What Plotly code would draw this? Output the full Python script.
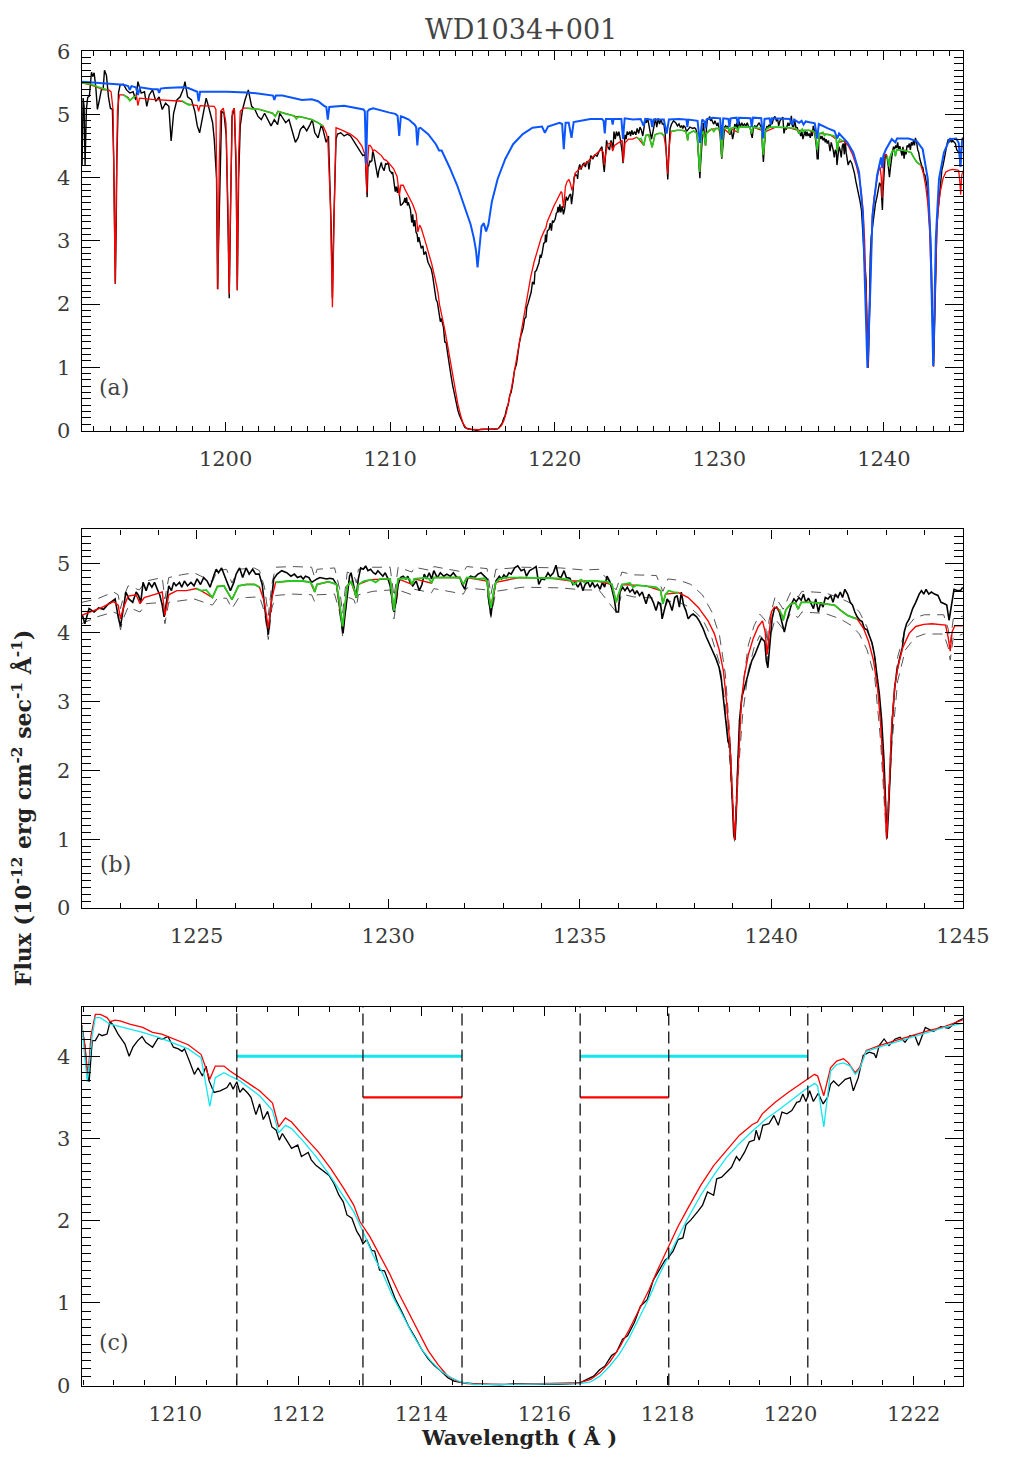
import plotly.graph_objects as go

# ---------------- data (wavelength in Angstrom, flux in 1e-12 erg/cm2/s/A) ----------------
obs_points = [
    (1191.28, 4.19), (1191.34, 5.26), (1191.40, 5.13), (1191.46, 4.20), (1191.54, 5.08), (1191.62, 5.27),
    (1191.72, 5.29), (1191.78, 5.44), (1191.85, 5.67), (1191.93, 5.60), (1192.01, 5.66), (1192.11, 5.44),
    (1192.21, 5.08), (1192.33, 5.23), (1192.45, 5.39), (1192.56, 5.40), (1192.64, 5.70), (1192.76, 5.62),
    (1192.88, 5.28), (1193.00, 5.10), (1193.12, 5.08), (1193.20, 4.30), (1193.26, 2.60), (1193.30, 2.32),
    (1193.35, 3.20), (1193.39, 4.30), (1193.49, 5.34), (1193.59, 5.47), (1193.79, 5.48), (1193.98, 5.39),
    (1194.18, 5.34), (1194.38, 5.36), (1194.54, 5.23), (1194.67, 5.52), (1194.87, 5.34), (1195.07, 5.36),
    (1195.21, 5.13), (1195.36, 5.31), (1195.56, 5.39), (1195.76, 5.21), (1195.96, 5.28), (1196.15, 5.08),
    (1196.35, 5.18), (1196.55, 5.13), (1196.69, 4.58), (1196.84, 5.02), (1197.04, 5.23), (1197.24, 5.28),
    (1197.44, 5.41), (1197.53, 5.52), (1197.69, 5.28), (1197.93, 5.23), (1198.13, 5.05), (1198.28, 4.82),
    (1198.42, 4.71), (1198.62, 5.02), (1198.82, 5.26), (1199.01, 5.08), (1199.21, 4.87), (1199.31, 4.61),
    (1199.45, 3.98), (1199.51, 2.24), (1199.58, 3.20), (1199.64, 3.98), (1199.76, 5.05), (1199.90, 5.02),
    (1200.04, 4.66), (1200.16, 3.05), (1200.22, 2.09), (1200.30, 3.46), (1200.39, 4.97), (1200.53, 5.10),
    (1200.65, 3.98), (1200.71, 2.22), (1200.79, 3.98), (1200.89, 4.82), (1201.03, 5.08), (1201.18, 5.23),
    (1201.38, 5.39), (1201.58, 5.13), (1201.78, 5.08), (1201.97, 4.97), (1202.17, 4.92), (1202.37, 5.02),
    (1202.56, 4.92), (1202.76, 4.82), (1202.96, 4.92), (1203.16, 4.84), (1203.29, 5.02), (1203.45, 4.95),
    (1203.65, 4.87), (1203.85, 4.92), (1204.04, 4.76), (1204.24, 4.56), (1204.40, 4.63), (1204.54, 4.76),
    (1204.73, 4.82), (1204.93, 4.74), (1205.13, 4.84), (1205.27, 4.92), (1205.42, 4.71), (1205.62, 4.63),
    (1205.82, 4.84), (1205.92, 4.76), (1206.11, 4.56), (1206.25, 4.66), (1206.41, 3.26), (1206.49, 2.09),
    (1206.57, 3.26), (1206.71, 4.61), (1206.80, 4.69), (1207.00, 4.71), (1207.20, 4.66), (1207.40, 4.69),
    (1207.59, 4.66), (1207.79, 4.58), (1207.99, 4.50), (1208.19, 4.40), (1208.34, 4.35),
    (1208.48, 4.37), (1208.53, 4.13), (1208.57, 3.78), (1208.60, 3.69), (1208.65, 4.19), (1208.70, 4.19),
    (1208.76, 4.27), (1208.81, 4.25), (1208.89, 4.27), (1208.94, 4.42), (1208.99, 4.38), (1209.07, 4.27),
    (1209.18, 4.15), (1209.25, 4.00), (1209.31, 4.11), (1209.39, 4.19), (1209.46, 4.24), (1209.52, 4.17),
    (1209.63, 4.11), (1209.72, 4.22), (1209.79, 4.21), (1209.88, 4.24), (1209.97, 4.11), (1210.05, 4.09),
    (1210.11, 4.06), (1210.15, 4.09), (1210.23, 3.94), (1210.31, 3.78), (1210.37, 3.86), (1210.44, 3.76),
    (1210.50, 3.88), (1210.55, 3.70), (1210.63, 3.56), (1210.73, 3.58), (1210.84, 3.62), (1210.89, 3.68),
    (1210.94, 3.60), (1211.00, 3.69), (1211.05, 3.56), (1211.10, 3.61), (1211.18, 3.55), (1211.23, 3.50),
    (1211.31, 3.29), (1211.37, 3.42), (1211.43, 3.23), (1211.50, 3.33), (1211.57, 3.14), (1211.64, 3.10),
    (1211.69, 2.98), (1211.74, 3.06), (1211.80, 2.99), (1211.89, 2.88), (1211.99, 2.92), (1212.05, 2.78),
    (1212.16, 2.83), (1212.21, 2.74), (1212.29, 2.67), (1212.39, 2.61), (1212.50, 2.55), (1212.58, 2.45),
    (1212.66, 2.31), (1212.73, 2.23), (1212.79, 2.07), (1212.87, 2.03), (1212.95, 1.87), (1213.00, 1.81),
    (1213.05, 1.72), (1213.11, 1.77), (1213.19, 1.64), (1213.24, 1.63), (1213.32, 1.40), (1213.40, 1.39),
    (1213.48, 1.24), (1213.58, 1.04), (1213.69, 0.88), (1213.79, 0.72), (1213.90, 0.58), (1214.00, 0.44),
    (1214.11, 0.32), (1214.21, 0.24), (1214.32, 0.17), (1214.43, 0.09), (1214.53, 0.05), (1214.66, 0.03),
    (1214.85, 0.02), (1215.06, 0.01), (1215.27, 0.00), (1215.53, 0.02), (1215.69, 0.02), (1215.97, 0.01),
    (1216.22, 0.01), (1216.48, 0.02), (1216.58, 0.03), (1216.69, 0.07), (1216.80, 0.11), (1216.90, 0.19),
    (1216.98, 0.23), (1217.09, 0.36), (1217.17, 0.40), (1217.27, 0.56), (1217.35, 0.60), (1217.46, 0.76),
    (1217.56, 0.96), (1217.67, 1.04), (1217.77, 1.28), (1217.85, 1.38), (1217.96, 1.52), (1218.01, 1.55),
    (1218.09, 1.63), (1218.17, 1.77), (1218.25, 1.79), (1218.30, 1.95), (1218.38, 2.01), (1218.49, 2.11),
    (1218.57, 2.19), (1218.65, 2.35), (1218.75, 2.31), (1218.80, 2.51), (1218.88, 2.53), (1218.96, 2.59),
    (1219.04, 2.65), (1219.12, 2.78), (1219.17, 2.73), (1219.25, 2.83), (1219.33, 2.96), (1219.41, 2.98),
    (1219.44, 3.10), (1219.49, 2.98), (1219.55, 3.16), (1219.65, 3.18), (1219.73, 3.28), (1219.80, 3.16),
    (1219.86, 3.32), (1219.94, 3.30), (1220.02, 3.34), (1220.10, 3.44), (1220.15, 3.45), (1220.20, 3.54),
    (1220.25, 3.45), (1220.31, 3.58), (1220.37, 3.45), (1220.45, 3.55), (1220.53, 3.42), (1220.60, 3.50),
    (1220.65, 3.66), (1220.70, 3.70), (1220.78, 3.64), (1220.89, 3.72), (1220.97, 3.74), (1221.02, 3.58),
    (1221.10, 3.74), (1221.18, 4.01), (1221.28, 4.05), (1221.36, 4.03), (1221.39, 3.98), (1221.44, 4.13),
    (1221.52, 4.21), (1221.60, 4.13), (1221.70, 4.21), (1221.78, 4.23), (1221.86, 4.17), (1221.94, 4.25),
    (1222.02, 4.25), (1222.08, 4.13), (1222.19, 4.35), (1222.32, 4.30), (1222.44, 4.36), (1222.57, 4.34),
    (1222.70, 4.42), (1222.78, 4.45), (1222.87, 4.49), (1222.95, 4.23), (1223.01, 4.09), (1223.10, 4.40),
    (1223.15, 4.59), (1223.23, 4.49), (1223.33, 4.44), (1223.42, 4.59), (1223.48, 4.54), (1223.54, 4.44),
    (1223.60, 4.73), (1223.68, 4.61), (1223.75, 4.73), (1223.83, 4.66), (1223.90, 4.73), (1223.98, 4.62),
    (1224.04, 4.54), (1224.10, 4.40), (1224.15, 4.23), (1224.21, 4.44), (1224.27, 4.68), (1224.34, 4.61),
    (1224.40, 4.73), (1224.46, 4.68), (1224.55, 4.73), (1224.61, 4.66), (1224.68, 4.75), (1224.76, 4.68),
    (1224.85, 4.73), (1224.93, 4.68), (1225.01, 4.78), (1225.10, 4.70), (1225.18, 4.80), (1225.27, 4.75),
    (1225.35, 4.66), (1225.46, 4.85), (1225.51, 4.92), (1225.57, 4.87), (1225.65, 4.94), (1225.78, 4.75),
    (1225.88, 4.61), (1225.97, 4.73), (1226.03, 4.85), (1226.12, 4.94), (1226.20, 4.80), (1226.29, 4.94),
    (1226.37, 4.85), (1226.46, 4.92), (1226.54, 4.85), (1226.63, 4.85), (1226.71, 4.70), (1226.80, 4.25),
    (1226.87, 3.97), (1226.93, 4.35), (1227.01, 4.78), (1227.10, 4.85), (1227.22, 4.90), (1227.35, 4.87),
    (1227.46, 4.82), (1227.55, 4.85), (1227.63, 4.80), (1227.72, 4.82), (1227.78, 4.78), (1227.84, 4.82),
    (1227.93, 4.80), (1228.00, 4.73), (1228.05, 4.75), (1228.14, 4.78), (1228.22, 4.80), (1228.31, 4.79),
    (1228.39, 4.78), (1228.48, 4.79), (1228.56, 4.78), (1228.65, 4.70), (1228.73, 4.35), (1228.78, 4.09),
    (1228.82, 3.99), (1228.86, 4.20), (1228.93, 4.54), (1228.99, 4.82), (1229.03, 4.87), (1229.10, 4.68),
    (1229.16, 4.51), (1229.22, 4.78), (1229.28, 4.94), (1229.35, 4.92), (1229.41, 4.97), (1229.47, 4.90),
    (1229.54, 4.92), (1229.61, 4.87), (1229.67, 4.85), (1229.73, 4.90), (1229.79, 4.87), (1229.86, 4.82),
    (1229.92, 4.87), (1229.98, 4.80), (1230.05, 4.68), (1230.11, 4.44), (1230.15, 4.30), (1230.20, 4.44),
    (1230.26, 4.70), (1230.32, 4.80), (1230.39, 4.82), (1230.46, 4.78), (1230.51, 4.82), (1230.57, 4.73),
    (1230.64, 4.68), (1230.73, 4.75), (1230.81, 4.61), (1230.88, 4.70), (1230.94, 4.85), (1231.00, 4.78),
    (1231.07, 4.87), (1231.13, 4.78), (1231.19, 4.90), (1231.28, 4.80), (1231.36, 4.87), (1231.45, 4.82),
    (1231.53, 4.85), (1231.62, 4.82), (1231.70, 4.87), (1231.79, 4.80), (1231.87, 4.80), (1231.93, 4.70),
    (1232.00, 4.63), (1232.07, 4.78), (1232.15, 4.82), (1232.25, 4.80), (1232.34, 4.85), (1232.42, 4.87),
    (1232.51, 4.82), (1232.58, 4.78), (1232.62, 4.49), (1232.68, 4.25), (1232.75, 4.54), (1232.81, 4.75),
    (1232.90, 4.82), (1232.96, 4.78), (1233.02, 4.84), (1233.08, 4.80), (1233.15, 4.87), (1233.21, 4.85),
    (1233.30, 4.94), (1233.38, 4.97), (1233.47, 4.90), (1233.55, 4.92), (1233.61, 4.82), (1233.69, 4.90),
    (1233.78, 4.93), (1233.86, 4.96), (1233.93, 4.70), (1234.00, 4.78), (1234.08, 4.77), (1234.17, 4.87),
    (1234.23, 4.82), (1234.31, 4.87), (1234.38, 4.98), (1234.44, 4.82), (1234.51, 4.80), (1234.59, 4.90),
    (1234.65, 4.80), (1234.74, 4.79), (1234.82, 4.70), (1234.88, 4.73), (1234.95, 4.66), (1235.02, 4.73),
    (1235.08, 4.61), (1235.14, 4.70), (1235.21, 4.74), (1235.27, 4.66), (1235.33, 4.73), (1235.39, 4.66),
    (1235.46, 4.70), (1235.53, 4.63), (1235.59, 4.73), (1235.65, 4.66), (1235.71, 4.82), (1235.78, 4.75),
    (1235.84, 4.63), (1235.90, 4.49), (1235.95, 4.30), (1236.01, 4.30), (1236.05, 4.59), (1236.12, 4.66),
    (1236.18, 4.61), (1236.24, 4.66), (1236.31, 4.59), (1236.38, 4.63), (1236.44, 4.56), (1236.49, 4.61),
    (1236.56, 4.54), (1236.63, 4.59), (1236.69, 4.49), (1236.73, 4.42), (1236.80, 4.56), (1236.86, 4.51),
    (1236.92, 4.44), (1236.99, 4.32), (1237.05, 4.44), (1237.11, 4.42), (1237.15, 4.20), (1237.22, 4.37),
    (1237.28, 4.49), (1237.34, 4.44), (1237.41, 4.32), (1237.48, 4.51), (1237.54, 4.54), (1237.60, 4.37),
    (1237.65, 4.59), (1237.71, 4.40), (1237.77, 4.32), (1237.83, 4.20), (1237.90, 4.25), (1237.96, 4.27),
    (1238.05, 4.23), (1238.13, 4.16), (1238.22, 4.06), (1238.30, 3.94), (1238.38, 3.85), (1238.47, 3.73),
    (1238.55, 3.63), (1238.64, 3.49), (1238.70, 3.30), (1238.75, 3.01), (1238.81, 2.73), (1238.87, 2.42),
    (1238.92, 2.37), (1238.95, 1.97), (1238.99, 1.40), (1239.02, 1.06), (1239.05, 0.99), (1239.08, 1.30),
    (1239.12, 2.01), (1239.17, 2.73), (1239.23, 3.06), (1239.32, 3.25), (1239.40, 3.44), (1239.49, 3.59),
    (1239.57, 3.68), (1239.66, 3.82), (1239.74, 3.92), (1239.83, 3.87), (1239.87, 3.59), (1239.91, 3.49),
    (1239.95, 3.78), (1240.02, 4.20), (1240.08, 4.35), (1240.14, 4.37), (1240.21, 4.30), (1240.28, 4.16),
    (1240.34, 4.01), (1240.40, 4.16), (1240.46, 4.30), (1240.53, 4.42), (1240.59, 4.49), (1240.65, 4.45),
    (1240.72, 4.51), (1240.78, 4.47), (1240.84, 4.56), (1240.90, 4.44), (1240.97, 4.50), (1241.04, 4.42),
    (1241.10, 4.35), (1241.16, 4.49), (1241.23, 4.30), (1241.29, 4.44), (1241.35, 4.37), (1241.41, 4.51),
    (1241.48, 4.49), (1241.55, 4.54), (1241.61, 4.44), (1241.67, 4.56), (1241.74, 4.51), (1241.80, 4.59),
    (1241.86, 4.51), (1241.92, 4.63), (1241.99, 4.56), (1242.06, 4.44), (1242.12, 4.40), (1242.18, 4.30),
    (1242.24, 4.23), (1242.31, 4.18), (1242.37, 4.16), (1242.43, 4.06), (1242.50, 4.04), (1242.57, 3.94),
    (1242.63, 3.85), (1242.69, 3.68), (1242.75, 3.44), (1242.82, 3.11), (1242.88, 2.73), (1242.94, 2.16),
    (1242.99, 1.44), (1243.02, 1.01), (1243.06, 1.40), (1243.11, 2.16), (1243.16, 2.73), (1243.22, 3.20),
    (1243.28, 3.44), (1243.35, 3.63), (1243.42, 3.78), (1243.47, 4.01), (1243.53, 4.13), (1243.60, 4.20),
    (1243.69, 4.35), (1243.77, 4.44), (1243.86, 4.56), (1243.92, 4.61), (1243.98, 4.56), (1244.04, 4.63),
    (1244.11, 4.56), (1244.18, 4.59), (1244.26, 4.56), (1244.35, 4.54), (1244.43, 4.44), (1244.52, 4.42),
    (1244.58, 4.40), (1244.64, 4.18), (1244.70, 4.40), (1244.77, 4.63), (1244.86, 4.61), (1244.94, 4.61),
    (1245.00, 4.66),
]

red_model = [
    (1191.28, 5.50), (1191.81, 5.47), (1192.21, 5.43), (1192.60, 5.39), (1192.90, 5.39), (1193.04, 5.36),
    (1193.16, 5.08), (1193.23, 3.52), (1193.29, 2.32), (1193.35, 3.52), (1193.43, 5.08), (1193.55, 5.31),
    (1193.79, 5.31), (1194.08, 5.27), (1194.18, 5.22), (1194.34, 5.26), (1194.58, 5.31), (1194.67, 5.14),
    (1194.77, 5.26), (1195.56, 5.24), (1196.55, 5.22), (1197.34, 5.21), (1197.63, 5.17), (1198.13, 5.15),
    (1198.28, 5.14), (1198.36, 5.05), (1198.45, 5.14), (1199.31, 5.13), (1199.41, 5.08), (1199.45, 4.19),
    (1199.53, 2.23), (1199.61, 4.19), (1199.70, 5.05), (1199.86, 5.10), (1200.02, 4.87), (1200.14, 3.57),
    (1200.22, 2.16), (1200.30, 3.57), (1200.41, 5.05), (1200.53, 5.10), (1200.63, 4.35), (1200.71, 2.22),
    (1200.79, 4.35), (1200.89, 5.05), (1201.08, 5.10), (1201.28, 5.10), (1202.07, 5.08), (1202.86, 5.02),
    (1203.02, 4.97), (1203.18, 5.05), (1203.65, 5.01), (1204.24, 4.97), (1204.64, 4.96), (1205.23, 4.92),
    (1205.62, 4.87), (1205.92, 4.82), (1206.11, 4.71), (1206.21, 4.61), (1206.37, 3.57), (1206.49, 1.95),
    (1206.61, 3.57), (1206.71, 4.79), (1207.00, 4.76), (1207.59, 4.69), (1207.99, 4.61), (1208.28, 4.50),
    (1208.42, 4.40), (1208.48, 4.37), (1208.53, 4.13), (1208.58, 3.76), (1208.63, 4.25), (1208.70, 4.51),
    (1208.78, 4.51), (1208.89, 4.47), (1208.94, 4.42), (1209.02, 4.44), (1209.10, 4.43), (1209.26, 4.39),
    (1209.47, 4.35), (1209.63, 4.29), (1209.78, 4.27), (1209.99, 4.21), (1210.21, 4.14), (1210.42, 4.02),
    (1210.56, 3.72), (1210.65, 3.88), (1210.79, 3.88), (1210.89, 3.82), (1211.05, 3.74), (1211.21, 3.66),
    (1211.37, 3.58), (1211.58, 3.43), (1211.68, 3.14), (1211.79, 3.25), (1211.89, 3.20), (1212.10, 3.02),
    (1212.32, 2.84), (1212.53, 2.63), (1212.74, 2.39), (1212.90, 2.19), (1213.00, 1.99), (1213.16, 1.81),
    (1213.32, 1.59), (1213.48, 1.36), (1213.63, 1.12), (1213.79, 0.88), (1213.95, 0.64), (1214.11, 0.42),
    (1214.27, 0.25), (1214.43, 0.11), (1214.58, 0.05), (1214.74, 0.02), (1215.38, 0.01), (1216.58, 0.03),
    (1216.75, 0.07), (1216.90, 0.15), (1217.06, 0.28), (1217.22, 0.46), (1217.38, 0.68), (1217.54, 0.92),
    (1217.70, 1.16), (1217.85, 1.42), (1218.01, 1.67), (1218.17, 1.93), (1218.33, 2.15), (1218.54, 2.43),
    (1218.75, 2.67), (1218.96, 2.86), (1219.17, 3.04), (1219.38, 3.17), (1219.46, 3.20), (1219.54, 3.30),
    (1219.75, 3.44), (1219.96, 3.56), (1220.12, 3.64), (1220.28, 3.72), (1220.39, 3.78), (1220.44, 3.76),
    (1220.54, 3.52), (1220.65, 3.86), (1220.75, 3.94), (1220.86, 3.97), (1220.94, 3.92), (1221.05, 3.80),
    (1221.12, 3.86), (1221.23, 4.07), (1221.44, 4.13), (1221.70, 4.19), (1221.97, 4.25), (1222.23, 4.31),
    (1222.50, 4.36), (1222.83, 4.45), (1222.95, 4.40), (1223.01, 4.20), (1223.08, 4.35), (1223.21, 4.53),
    (1223.42, 4.55), (1223.52, 4.42), (1223.63, 4.51), (1223.93, 4.56), (1224.10, 4.59), (1224.17, 4.25),
    (1224.27, 4.55), (1224.48, 4.61), (1224.73, 4.61), (1224.99, 4.64), (1225.11, 4.61), (1225.41, 4.51),
    (1225.54, 4.67), (1225.71, 4.68), (1225.92, 4.48), (1226.09, 4.68), (1226.30, 4.70), (1226.51, 4.70),
    (1226.64, 4.66), (1226.77, 4.44), (1226.87, 4.06), (1226.96, 4.49), (1227.06, 4.73), (1227.42, 4.75),
    (1227.76, 4.75), (1227.97, 4.73), (1228.08, 4.59), (1228.14, 4.70), (1228.44, 4.74), (1228.65, 4.70),
    (1228.81, 4.09), (1228.93, 4.68), (1229.03, 4.74), (1229.17, 4.51), (1229.22, 4.70), (1229.54, 4.77),
    (1230.05, 4.78), (1230.15, 4.32), (1230.26, 4.78), (1230.62, 4.70), (1230.68, 4.78), (1231.13, 4.72),
    (1231.19, 4.80), (1231.87, 4.80), (1231.96, 4.70), (1232.05, 4.80), (1232.58, 4.75), (1232.68, 4.36),
    (1232.81, 4.73), (1233.42, 4.80), (1234.27, 4.79), (1234.78, 4.75), (1235.46, 4.75), (1235.84, 4.70),
    (1235.95, 4.44), (1236.10, 4.70), (1236.73, 4.68), (1237.11, 4.61), (1237.17, 4.42), (1237.24, 4.56),
    (1237.58, 4.58), (1237.83, 4.51), (1238.09, 4.37), (1238.34, 4.18), (1238.51, 3.99), (1238.64, 3.75),
    (1238.75, 3.44), (1238.83, 3.01), (1238.92, 2.35), (1238.98, 1.68), (1239.04, 0.99), (1239.09, 1.49),
    (1239.15, 2.30), (1239.21, 2.92), (1239.29, 3.35), (1239.40, 3.68), (1239.53, 3.92), (1239.66, 4.09),
    (1239.77, 4.17), (1239.84, 4.01), (1239.89, 3.68), (1239.94, 4.01), (1240.00, 4.30), (1240.08, 4.37),
    (1240.17, 4.35), (1240.28, 4.25), (1240.31, 4.18), (1240.38, 4.33), (1240.51, 4.42), (1240.63, 4.43),
    (1240.70, 4.34), (1240.78, 4.44), (1241.06, 4.44), (1241.40, 4.42), (1241.65, 4.40), (1241.82, 4.32),
    (1241.99, 4.25), (1242.24, 4.20), (1242.41, 4.06), (1242.54, 3.87), (1242.67, 3.59), (1242.78, 3.16),
    (1242.86, 2.63), (1242.94, 1.87), (1243.01, 1.01), (1243.08, 1.78), (1243.14, 2.63), (1243.22, 3.20),
    (1243.30, 3.49), (1243.43, 3.78), (1243.60, 3.99), (1243.77, 4.09), (1243.98, 4.12), (1244.19, 4.13),
    (1244.49, 4.12), (1244.55, 4.11), (1244.62, 3.92), (1244.67, 3.73), (1244.72, 4.01), (1244.79, 4.10),
    (1245.00, 4.10),
]

green_seg1 = [(1191.28, 5.50), (1191.81, 5.48), (1192.21, 5.44), (1192.60, 5.40), (1192.80, 5.39)]
green_seg2 = [(1193.79, 5.31), (1194.02, 5.27), (1194.18, 5.22), (1194.34, 5.26), (1194.58, 5.30)]
green_seg3 = [(1197.34, 5.22), (1197.57, 5.18), (1197.77, 5.15), (1197.93, 5.16)]
green_seg4 = [(1201.28, 5.10), (1202.07, 5.08), (1202.86, 5.02), (1203.02, 4.97), (1203.18, 5.05),
              (1203.65, 5.01), (1204.15, 4.98), (1204.30, 4.93), (1204.45, 4.97), (1204.64, 4.96),
              (1205.23, 4.92), (1205.62, 4.87), (1205.92, 4.82)]
green_seg5 = [(1224.99, 4.64), (1225.11, 4.61), (1225.25, 4.62), (1225.41, 4.51), (1225.54, 4.67),
              (1225.71, 4.68), (1225.92, 4.48), (1226.09, 4.68), (1226.30, 4.70), (1226.51, 4.70),
              (1226.64, 4.66)]
green_seg6 = [
    (1227.06, 4.73), (1227.42, 4.75), (1227.76, 4.75), (1227.97, 4.73), (1228.03, 4.68), (1228.08, 4.59),
    (1228.14, 4.70), (1228.44, 4.74), (1228.65, 4.70), (1228.73, 4.44), (1228.78, 4.20), (1228.81, 4.09),
    (1228.86, 4.35), (1228.93, 4.68), (1229.03, 4.74), (1229.11, 4.63), (1229.17, 4.51), (1229.22, 4.70),
    (1229.37, 4.75), (1229.54, 4.77), (1229.67, 4.73), (1229.79, 4.78), (1230.05, 4.78), (1230.11, 4.54),
    (1230.15, 4.32), (1230.20, 4.59), (1230.26, 4.78), (1230.47, 4.79), (1230.56, 4.78), (1230.62, 4.70),
    (1230.68, 4.78), (1230.98, 4.80), (1231.07, 4.78), (1231.13, 4.72), (1231.19, 4.80), (1231.49, 4.80),
    (1231.87, 4.80), (1231.96, 4.70), (1232.05, 4.80), (1232.17, 4.80), (1232.34, 4.78), (1232.51, 4.79),
    (1232.58, 4.75), (1232.64, 4.49), (1232.68, 4.36), (1232.75, 4.59), (1232.81, 4.73), (1232.91, 4.78),
    (1233.08, 4.80), (1233.42, 4.80), (1233.85, 4.80), (1234.27, 4.79), (1234.61, 4.78), (1234.78, 4.75),
    (1234.85, 4.70), (1234.93, 4.74), (1235.04, 4.77), (1235.12, 4.73), (1235.20, 4.75), (1235.46, 4.75),
    (1235.71, 4.74), (1235.84, 4.70), (1235.91, 4.56), (1235.95, 4.44), (1236.01, 4.56), (1236.10, 4.70),
    (1236.31, 4.72), (1236.39, 4.66), (1236.48, 4.69), (1236.73, 4.68), (1236.99, 4.66), (1237.11, 4.61),
    (1237.17, 4.42), (1237.24, 4.56), (1237.32, 4.61), (1237.45, 4.59), (1237.58, 4.58),
]
green_seg7 = [(1240.21, 4.34), (1240.28, 4.25), (1240.31, 4.18), (1240.38, 4.33), (1240.51, 4.42),
              (1240.63, 4.43), (1240.70, 4.34), (1240.78, 4.44), (1241.06, 4.44), (1241.40, 4.42),
              (1241.65, 4.40), (1241.82, 4.32), (1241.99, 4.25), (1242.16, 4.21), (1242.24, 4.20)]

blue_model = [
    (1191.28, 5.52), (1192.21, 5.50), (1193.00, 5.48), (1193.79, 5.47), (1194.08, 5.45), (1194.18, 5.39),
    (1194.28, 5.45), (1194.55, 5.43), (1194.67, 5.31), (1194.80, 5.43), (1195.56, 5.40), (1195.88, 5.40),
    (1195.96, 5.34), (1196.05, 5.41), (1196.35, 5.42), (1197.34, 5.43), (1197.73, 5.42), (1198.05, 5.38),
    (1198.28, 5.36), (1198.36, 5.21), (1198.45, 5.36), (1200.10, 5.36), (1201.28, 5.35), (1202.07, 5.33),
    (1202.88, 5.30), (1202.96, 5.23), (1203.05, 5.30), (1203.45, 5.30), (1204.24, 5.26), (1204.64, 5.23),
    (1205.23, 5.24), (1205.62, 5.21), (1206.02, 5.13), (1206.12, 5.12), (1206.21, 4.92), (1206.30, 5.12),
    (1207.20, 5.14), (1207.99, 5.10), (1208.38, 5.08), (1208.46, 5.05), (1208.54, 4.22), (1208.62, 5.05),
    (1208.74, 5.08), (1208.97, 5.10), (1209.57, 5.05), (1209.96, 5.03), (1210.31, 5.01), (1210.45, 4.98),
    (1210.55, 4.66), (1210.65, 4.97), (1210.78, 4.96), (1211.13, 4.92), (1211.49, 4.84), (1211.58, 4.80),
    (1211.65, 4.51), (1211.74, 4.78), (1211.84, 4.79), (1212.31, 4.69), (1212.78, 4.53), (1212.97, 4.43),
    (1213.13, 4.43), (1213.60, 4.17), (1214.07, 3.88), (1214.54, 3.54), (1214.89, 3.26), (1215.08, 3.05),
    (1215.22, 2.84), (1215.31, 2.58), (1215.41, 2.84), (1215.55, 3.23), (1215.69, 3.28), (1215.83, 3.15),
    (1215.97, 3.26), (1216.18, 3.62), (1216.53, 3.98), (1217.00, 4.30), (1217.47, 4.53), (1218.06, 4.69),
    (1218.65, 4.79), (1219.23, 4.81), (1219.40, 4.71), (1219.59, 4.81), (1220.29, 4.87), (1220.45, 4.85),
    (1220.55, 4.45), (1220.66, 4.87), (1220.85, 4.87), (1221.02, 4.63), (1221.15, 4.88), (1222.17, 4.93),
    (1222.87, 4.93), (1222.97, 4.90), (1223.04, 4.70), (1223.11, 4.93), (1223.46, 4.93), (1223.52, 4.84),
    (1223.58, 4.93), (1224.05, 4.93), (1224.15, 4.61), (1224.25, 4.94), (1224.75, 4.92), (1225.22, 4.93),
    (1225.40, 4.82), (1225.50, 4.93), (1225.85, 4.92), (1225.92, 4.80), (1226.00, 4.92), (1226.63, 4.92),
    (1226.80, 4.70), (1226.94, 4.92), (1227.57, 4.93), (1228.00, 4.92), (1228.06, 4.80), (1228.12, 4.92),
    (1228.68, 4.90), (1228.82, 4.55), (1228.96, 4.92), (1229.12, 4.88), (1229.17, 4.78), (1229.22, 4.92),
    (1229.60, 4.95), (1230.05, 4.94), (1230.15, 4.60), (1230.24, 4.94), (1230.55, 4.93), (1230.62, 4.80),
    (1230.69, 4.94), (1231.05, 4.95), (1231.13, 4.84), (1231.20, 4.95), (1231.90, 4.94), (1231.97, 4.80),
    (1232.05, 4.95), (1232.55, 4.94), (1232.65, 4.62), (1232.75, 4.93), (1233.05, 4.94), (1233.12, 4.84),
    (1233.20, 4.94), (1234.30, 4.93), (1234.42, 4.84), (1234.55, 4.92), (1234.85, 4.87), (1235.00, 4.90),
    (1235.12, 4.84), (1235.25, 4.89), (1235.80, 4.86), (1235.95, 4.62), (1236.05, 4.85), (1236.40, 4.80),
    (1236.60, 4.78), (1237.00, 4.74), (1237.17, 4.62), (1237.28, 4.70), (1237.50, 4.64), (1237.78, 4.56),
    (1238.14, 4.40), (1238.49, 4.09), (1238.72, 3.46), (1238.89, 2.00), (1239.00, 0.99), (1239.15, 2.00),
    (1239.31, 3.41), (1239.59, 4.04), (1239.83, 4.32), (1239.90, 4.15), (1239.97, 4.35), (1240.13, 4.45),
    (1240.48, 4.61), (1240.70, 4.56), (1240.80, 4.62), (1241.50, 4.62), (1242.00, 4.58), (1242.36, 4.45),
    (1242.67, 3.98), (1242.83, 3.05), (1243.00, 1.02), (1243.16, 3.05), (1243.35, 3.98), (1243.65, 4.40),
    (1244.00, 4.61), (1244.40, 4.62), (1244.55, 4.55), (1244.66, 4.17), (1244.75, 4.58), (1245.00, 4.63),
]

cyan_model = [
    (1208.48, 4.36), (1208.57, 3.69), (1208.65, 4.25), (1208.70, 4.47), (1208.78, 4.47), (1208.94, 4.39),
    (1209.10, 4.36), (1209.26, 4.33), (1209.47, 4.29), (1209.73, 4.23), (1209.99, 4.15), (1210.21, 4.09),
    (1210.42, 3.98), (1210.56, 3.39), (1210.65, 3.74), (1210.79, 3.80), (1210.89, 3.76), (1211.05, 3.70),
    (1211.37, 3.52), (1211.58, 3.34), (1211.68, 3.07), (1211.79, 3.16), (1211.89, 3.12), (1212.10, 2.95),
    (1212.32, 2.75), (1212.53, 2.53), (1212.74, 2.29), (1212.90, 2.11), (1213.05, 1.87), (1213.21, 1.59),
    (1213.37, 1.36), (1213.52, 1.10), (1213.69, 0.86), (1213.84, 0.64), (1214.00, 0.44), (1214.16, 0.29),
    (1214.32, 0.17), (1214.48, 0.09), (1214.64, 0.04), (1214.85, 0.01), (1215.38, 0.01), (1216.58, 0.02),
    (1216.75, 0.04), (1216.90, 0.11), (1217.06, 0.23), (1217.22, 0.38), (1217.38, 0.58), (1217.54, 0.82),
    (1217.70, 1.06), (1217.85, 1.32), (1218.01, 1.56), (1218.17, 1.81), (1218.33, 2.03), (1218.54, 2.31),
    (1218.75, 2.55), (1218.96, 2.77), (1219.17, 2.94), (1219.38, 3.09), (1219.59, 3.23), (1219.81, 3.35),
    (1220.02, 3.47), (1220.23, 3.59), (1220.39, 3.67), (1220.44, 3.64), (1220.54, 3.14), (1220.65, 3.82),
    (1220.75, 3.90), (1220.86, 3.92), (1220.97, 3.88), (1221.05, 3.78), (1221.12, 3.84), (1221.23, 4.06),
    (1221.44, 4.11), (1221.70, 4.17), (1221.97, 4.23), (1222.23, 4.29), (1222.50, 4.35), (1222.79, 4.40),
]

upper_dashed = [
    (1222.00, 4.44), (1222.40, 4.49), (1222.83, 4.59), (1222.95, 4.55), (1223.01, 4.35), (1223.08, 4.50),
    (1223.21, 4.68), (1223.50, 4.62), (1223.68, 4.75), (1224.10, 4.80), (1224.17, 4.49), (1224.27, 4.80),
    (1224.60, 4.84), (1224.93, 4.87), (1225.41, 4.74), (1225.54, 4.90), (1225.78, 4.92), (1225.92, 4.72),
    (1226.09, 4.92), (1226.50, 4.94), (1226.64, 4.90), (1226.77, 4.66), (1226.87, 4.25), (1226.96, 4.70),
    (1227.06, 4.95), (1227.50, 4.96), (1228.00, 4.95), (1228.08, 4.80), (1228.14, 4.92), (1228.60, 4.94),
    (1228.73, 4.64), (1228.81, 4.28), (1228.86, 4.55), (1228.93, 4.88), (1229.10, 4.84), (1229.17, 4.72),
    (1229.22, 4.92), (1229.60, 4.95), (1230.05, 4.95), (1230.15, 4.52), (1230.26, 4.95), (1230.62, 4.88),
    (1230.68, 4.95), (1231.13, 4.90), (1231.19, 4.96), (1231.96, 4.88), (1232.05, 4.96), (1232.58, 4.93),
    (1232.68, 4.55), (1232.81, 4.92), (1233.50, 4.95), (1234.50, 4.94), (1235.10, 4.91), (1235.50, 4.92),
    (1235.95, 4.62), (1236.10, 4.88), (1236.40, 4.84), (1237.00, 4.83), (1237.17, 4.60), (1237.30, 4.78),
    (1237.60, 4.76), (1237.90, 4.70), (1238.20, 4.55), (1238.45, 4.30), (1238.65, 3.95), (1238.80, 3.40),
    (1238.92, 2.50), (1239.04, 1.05), (1239.15, 2.40), (1239.25, 3.20), (1239.40, 3.82), (1239.55, 4.10),
    (1239.70, 4.27), (1239.84, 4.18), (1239.89, 3.85), (1239.94, 4.18), (1240.10, 4.52), (1240.31, 4.34),
    (1240.50, 4.58), (1240.70, 4.52), (1240.80, 4.60), (1241.40, 4.58), (1241.80, 4.50), (1242.10, 4.42),
    (1242.30, 4.30), (1242.50, 4.08), (1242.70, 3.70), (1242.85, 2.80), (1243.01, 1.05), (1243.15, 2.75),
    (1243.30, 3.65), (1243.50, 4.05), (1243.75, 4.22), (1244.00, 4.26), (1244.50, 4.26), (1244.62, 4.05),
    (1244.67, 3.85), (1244.75, 4.20), (1245.00, 4.24),
]

lower_dashed = [
    (1222.00, 4.13), (1222.40, 4.23), (1222.83, 4.30), (1222.95, 4.27), (1223.01, 4.04), (1223.08, 4.20),
    (1223.21, 4.37), (1223.52, 4.30), (1223.68, 4.42), (1224.10, 4.44), (1224.17, 4.13), (1224.27, 4.44),
    (1224.93, 4.49), (1225.41, 4.40), (1225.54, 4.50), (1225.78, 4.50), (1225.92, 4.35), (1226.09, 4.50),
    (1226.30, 4.51), (1226.64, 4.52), (1226.77, 4.30), (1226.87, 3.90), (1226.96, 4.35), (1227.06, 4.54),
    (1227.50, 4.56), (1228.00, 4.55), (1228.08, 4.45), (1228.14, 4.55), (1228.60, 4.56), (1228.73, 4.30),
    (1228.81, 3.95), (1228.86, 4.20), (1228.93, 4.52), (1229.10, 4.48), (1229.17, 4.38), (1229.22, 4.55),
    (1229.60, 4.60), (1230.05, 4.62), (1230.15, 4.20), (1230.26, 4.62), (1230.62, 4.55), (1230.68, 4.63),
    (1231.13, 4.58), (1231.19, 4.64), (1231.96, 4.56), (1232.05, 4.65), (1232.58, 4.62), (1232.68, 4.22),
    (1232.81, 4.60), (1233.50, 4.66), (1234.50, 4.65), (1235.10, 4.62), (1235.50, 4.62), (1235.95, 4.30),
    (1236.10, 4.56), (1236.40, 4.52), (1237.00, 4.50), (1237.17, 4.30), (1237.30, 4.46), (1237.60, 4.44),
    (1237.90, 4.36), (1238.20, 4.20), (1238.45, 3.92), (1238.65, 3.55), (1238.80, 2.95), (1238.92, 2.10),
    (1239.04, 0.97), (1239.15, 2.05), (1239.25, 2.80), (1239.40, 3.45), (1239.55, 3.78), (1239.70, 3.96),
    (1239.84, 3.88), (1239.89, 3.55), (1239.94, 3.88), (1240.10, 4.20), (1240.31, 4.05), (1240.50, 4.28),
    (1240.70, 4.22), (1240.80, 4.30), (1241.40, 4.28), (1241.80, 4.20), (1242.10, 4.10), (1242.30, 3.98),
    (1242.50, 3.75), (1242.70, 3.35), (1242.85, 2.45), (1243.01, 0.97), (1243.15, 2.40), (1243.30, 3.30),
    (1243.50, 3.75), (1243.75, 3.93), (1244.00, 3.98), (1244.50, 3.98), (1244.62, 3.78), (1244.67, 3.60),
    (1244.75, 3.93), (1245.00, 3.98),
]

# fitting-window markers of panel (c)
window_edges = [1211.00, 1213.05, 1214.66, 1216.58, 1218.02, 1220.28]
cyan_windows = [(1211.00, 1214.66), (1216.58, 1220.28)]
red_windows = [(1213.05, 1214.66), (1216.58, 1218.02)]
cyan_window_level = 4.0
red_window_level = 3.5

title_text = "WD1034+001"
panel_labels = ["(a)", "(b)", "(c)"]

# ---------------- helpers ----------------
def unzip(points):
    return [p[0] for p in points], [p[1] for p in points]


def join_segments(*segs):
    xs, ys = [], []
    for s in segs:
        x, y = unzip(s)
        xs += x + [None]
        ys += y + [None]
    return xs, ys


BLACK = "#000000"
RED = "#ff0000"
GREEN = "#1fcc1f"
BLUE = "#0a55ff"
CYAN = "#12e6f0"
FONT = "DejaVu Serif"

fig = go.Figure()

ox, oy = unzip(obs_points)
rx, ry = unzip(red_model)
gx, gy = join_segments(green_seg1, green_seg2, green_seg3, green_seg4, green_seg5, green_seg6, green_seg7)
bx, by = unzip(blue_model)
cx, cy = unzip(cyan_model)
ux, uy = unzip(upper_dashed)
lx, ly = unzip(lower_dashed)

# panel (a)
fig.add_trace(go.Scatter(x=ox, y=oy, mode="lines", line=dict(color=BLACK, width=1.4), xaxis="x", yaxis="y"))
fig.add_trace(go.Scatter(x=rx, y=ry, mode="lines", line=dict(color=RED, width=1.3), xaxis="x", yaxis="y"))
fig.add_trace(go.Scatter(x=gx, y=gy, mode="lines", line=dict(color=GREEN, width=1.6), xaxis="x", yaxis="y",
                         connectgaps=False))
fig.add_trace(go.Scatter(x=bx, y=by, mode="lines", line=dict(color=BLUE, width=2.0), xaxis="x", yaxis="y"))

# panel (b)
fig.add_trace(go.Scatter(x=ux, y=uy, mode="lines", line=dict(color="#555555", width=1.0, dash="10px,7px"),
                         xaxis="x2", yaxis="y2"))
fig.add_trace(go.Scatter(x=lx, y=ly, mode="lines", line=dict(color="#555555", width=1.0, dash="10px,7px"),
                         xaxis="x2", yaxis="y2"))
fig.add_trace(go.Scatter(x=ox, y=oy, mode="lines", line=dict(color=BLACK, width=1.6), xaxis="x2", yaxis="y2"))
fig.add_trace(go.Scatter(x=rx, y=ry, mode="lines", line=dict(color=RED, width=1.4), xaxis="x2", yaxis="y2"))
fig.add_trace(go.Scatter(x=gx, y=gy, mode="lines", line=dict(color=GREEN, width=1.8), xaxis="x2", yaxis="y2",
                         connectgaps=False))

# panel (c)
fig.add_trace(go.Scatter(x=ox, y=oy, mode="lines", line=dict(color=BLACK, width=1.3), xaxis="x3", yaxis="y3"))
fig.add_trace(go.Scatter(x=rx, y=ry, mode="lines", line=dict(color=RED, width=1.3), xaxis="x3", yaxis="y3"))
fig.add_trace(go.Scatter(x=cx, y=cy, mode="lines", line=dict(color=CYAN, width=1.3), xaxis="x3", yaxis="y3"))
for a, b in cyan_windows:
    fig.add_trace(go.Scatter(x=[a, b], y=[cyan_window_level, cyan_window_level], mode="lines",
                             line=dict(color=CYAN, width=2.8), xaxis="x3", yaxis="y3"))
for a, b in red_windows:
    fig.add_trace(go.Scatter(x=[a, b], y=[red_window_level, red_window_level], mode="lines",
                             line=dict(color=RED, width=2.2), xaxis="x3", yaxis="y3"))

shapes = []
for w in window_edges:
    shapes.append(dict(type="line", xref="x3", yref="y3 domain", x0=w, x1=w, y0=0, y1=1,
                       line=dict(color="#111111", width=1.3, dash="12px,6px"), layer="above"))

tickfont = dict(family=FONT, size=21, color="#3a3a3a")


def xaxis(rng, tick0, dtick, minor_dtick, anchor):
    return dict(range=rng, domain=[84 / 1021, 989 / 1021], anchor=anchor, tick0=tick0, dtick=dtick,
                ticks="inside", ticklen=9, tickwidth=1.1, tickcolor="black",
                minor=dict(ticks="inside", ticklen=5, dtick=minor_dtick, tickwidth=1.0, tickcolor="black",
                           showgrid=False),
                showline=True, linecolor="black", linewidth=1.3, mirror="allticks",
                showgrid=False, zeroline=False, tickfont=tickfont, ticklabelstandoff=9)


def yaxis(rng, dom, anchor):
    return dict(range=rng, domain=dom, anchor=anchor, tick0=0, dtick=1,
                ticks="inside", ticklen=18, tickwidth=1.1, tickcolor="black",
                minor=dict(ticks="inside", ticklen=9, dtick=0.1, tickwidth=1.0, tickcolor="black",
                           showgrid=False),
                showline=True, linecolor="black", linewidth=1.3, mirror="allticks",
                showgrid=False, zeroline=False, tickfont=tickfont, ticklabelstandoff=6)


H = 1463.0
fig.update_layout(
    width=1021, height=1463,
    margin=dict(l=0, r=0, t=0, b=0),
    paper_bgcolor="white", plot_bgcolor="white",
    showlegend=False,
    xaxis=xaxis([1191.26, 1244.8], 1200, 10, 1, "y"),
    yaxis=yaxis([-0.01, 6.0], [1 - 426 / H, 1 - 40 / H], "x"),
    xaxis2=xaxis([1222.0, 1245.0], 1225, 5, 1, "y2"),
    yaxis2=yaxis([0.0, 5.5], [1 - 911 / H, 1 - 526 / H], "x2"),
    xaxis3=xaxis([1208.48, 1222.8], 1210, 2, 0.5, "y3"),
    yaxis3=yaxis([-0.005, 4.6], [1 - 1396.5 / H, 1 - 1011.5 / H], "x3"),
    shapes=shapes,
    annotations=[
        dict(text=title_text, x=535 / 1021, y=1 - 18 / H, xref="paper", yref="paper", showarrow=False,
             font=dict(family=FONT, size=27, color="#444444"), xanchor="center", yanchor="middle"),
        dict(text="Flux (10<sup>-12</sup> erg cm<sup>-2</sup> sec<sup>-1</sup> Å<sup>-1</sup>)",
             x=22 / 1021, y=1 - 809 / H, xref="paper", yref="paper", showarrow=False, textangle=-90,
             font=dict(family=FONT, size=22, color="#222222", weight="bold"), xanchor="center", yanchor="middle"),
        dict(text="Wavelength ( Å )", x=533 / 1021, y=1 - 1449 / H, xref="paper", yref="paper", showarrow=False,
             font=dict(family=FONT, size=21, color="#222222", weight="bold"), xanchor="center", yanchor="middle"),
        dict(text=panel_labels[0], x=117.5 / 1021, y=1 - 381.7 / H, xref="paper", yref="paper", showarrow=False,
             font=dict(family=FONT, size=22, color="#444444"), xanchor="center", yanchor="middle"),
        dict(text=panel_labels[1], x=119 / 1021, y=1 - 866.7 / H, xref="paper", yref="paper", showarrow=False,
             font=dict(family=FONT, size=22, color="#444444"), xanchor="center", yanchor="middle"),
        dict(text=panel_labels[2], x=117.5 / 1021, y=1 - 1352.5 / H, xref="paper", yref="paper", showarrow=False,
             font=dict(family=FONT, size=22, color="#444444"), xanchor="center", yanchor="middle"),
    ],
)

fig.write_html("out.html")
